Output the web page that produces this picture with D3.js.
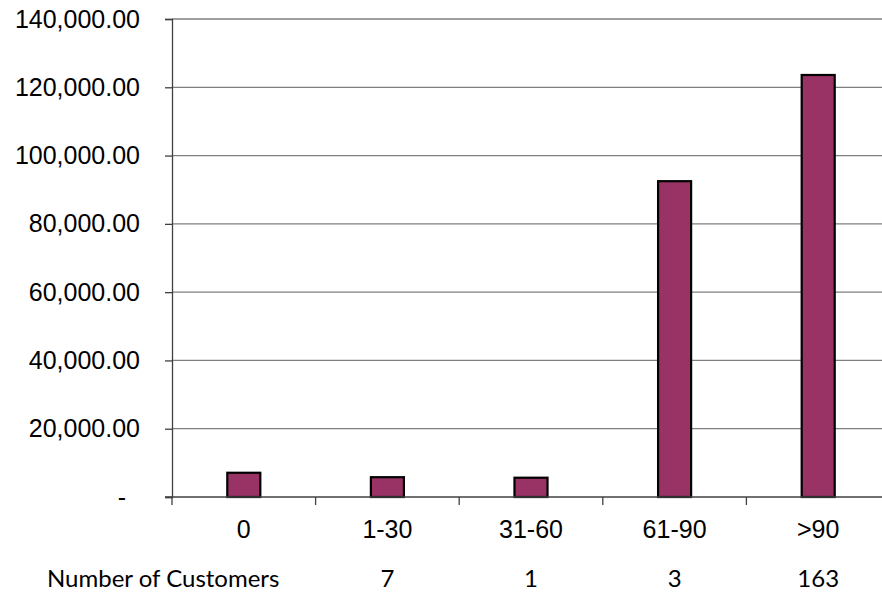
<!DOCTYPE html>
<html>
<head>
<meta charset="utf-8">
<script src="https://cdn.jsdelivr.net/npm/d3@7"></script>
<style>
  body { margin: 0; background: #fff; }
  svg { display: block; }
</style>
</head>
<body>
<div id="chart"></div>
<script>
// data
const categories = ["0", "1-30", "31-60", "61-90", ">90"]
const amounts = [7100, 5800, 5650, 92500, 123600]
const customers = ["", "7", "1", "3", "163"]
const tableLabel = "Number of Customers"
const yTicks = [0, 20000, 40000, 60000, 80000, 100000, 120000, 140000]

// SVG and margin
const margin = ({top: 19, right: -8, bottom: 95, left: 172})
const width = 882 - margin.left - margin.right,
    height = 592 - margin.top - margin.bottom

const svg = d3.select("#chart").append("svg")
    .attr("width", 882)
    .attr("height", 592)
    .append("g")
    .attr("transform", "translate(" + margin.left + "," + margin.top + ")")

// Scaling
const xScale = d3.scaleBand()
    .domain(categories)
    .range([0, width])
const yScale = d3.scaleLinear()
    .domain([0, 140000])
    .range([height, 0])

// gridlines
svg.append("g")
    .selectAll("line")
    .data(yTicks.slice(1))
    .join("line")
    .attr("x1", 0)
    .attr("x2", width)
    .attr("y1", d => yScale(d))
    .attr("y2", d => yScale(d))
    .attr("stroke", "#7f7f7f")
    .attr("stroke-width", 1.3)

// bars
const barW = xScale.bandwidth() * 0.23
svg.selectAll(".bar")
    .data(amounts)
    .join("rect")
    .attr("class", "bar")
    .attr("x", (d, i) => xScale(categories[i]) + xScale.bandwidth() / 2 - barW / 2)
    .attr("y", d => yScale(d))
    .attr("width", barW)
    .attr("height", d => height - yScale(d))
    .attr("fill", "#993366")
    .attr("stroke", "#000")
    .attr("stroke-width", 2.2)

// Axis
const fmt = d3.format(",.2f")
const yAxis = d3.axisLeft(yScale)
    .tickValues(yTicks)
    .tickSize(7)
    .tickPadding(25)
    .tickFormat(d => d === 0 ? "-" : fmt(d))

const gy = svg.append("g")
    .attr("class", "axis y-axis")
    .call(yAxis)
gy.select(".domain").attr("stroke", "#404040").attr("stroke-width", 1.3)
gy.selectAll(".tick line").attr("stroke", "#404040").attr("stroke-width", 1.3)
gy.selectAll(".tick text")
    .attr("font-family", "'Liberation Sans', Arial, sans-serif")
    .attr("font-size", 25)
    .attr("fill", "#000")
gy.selectAll(".tick text").filter(d => d === 0).attr("x", -46)

// x axis with ticks at category boundaries
const gx = svg.append("g")
    .attr("class", "axis x-axis")
    .attr("transform", "translate(0," + height + ")")
gx.append("line")
    .attr("x1", -7)
    .attr("x2", width)
    .attr("stroke", "#404040")
    .attr("stroke-width", 1.3)
gx.selectAll(".xtick")
    .data(categories.map(c => xScale(c)).concat([width]))
    .join("line")
    .attr("class", "xtick")
    .attr("x1", d => d)
    .attr("x2", d => d)
    .attr("y1", 0)
    .attr("y2", 8)
    .attr("stroke", "#404040")
    .attr("stroke-width", 1.3)
gx.selectAll(".xlabel")
    .data(categories)
    .join("text")
    .attr("class", "xlabel")
    .attr("x", d => xScale(d) + xScale.bandwidth() / 2)
    .attr("y", 41)
    .attr("text-anchor", "middle")
    .attr("font-family", "'Liberation Sans', Arial, sans-serif")
    .attr("font-size", 25)
    .text(d => d)

// table row under the chart
const table = svg.append("g")
    .attr("transform", "translate(0," + (height + 90) + ")")
table.append("text")
    .attr("x", 47 - margin.left)
    .attr("font-family", "Lato, 'Open Sans', sans-serif")
    .attr("font-size", 24)
    .text(tableLabel)
table.selectAll(".count")
    .data(customers)
    .join("text")
    .attr("class", "count")
    .attr("x", (d, i) => xScale(categories[i]) + xScale.bandwidth() / 2)
    .attr("text-anchor", "middle")
    .attr("font-family", "Lato, 'Open Sans', sans-serif")
    .attr("font-size", 24)
    .text(d => d)
</script>
</body>
</html>
